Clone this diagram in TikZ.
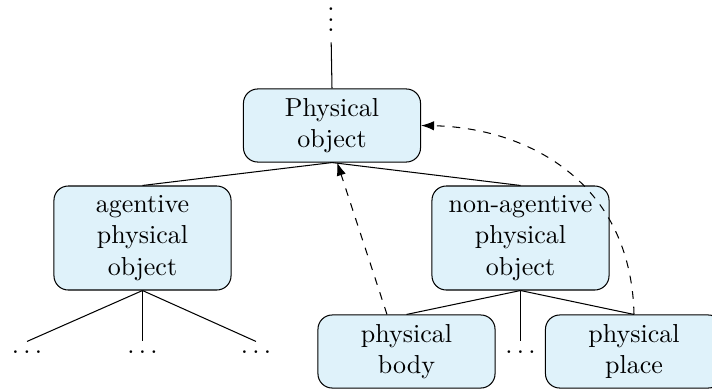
\documentclass[tikz,border=0pt]{standalone}
\usetikzlibrary{arrows.meta}
\definecolor{boxfill}{RGB}{223,242,250}
\begin{document}
\begin{tikzpicture}[x=0.3846pt,y=-0.3846pt,
  box/.style={draw=black, fill=boxfill, rounded corners=5.5pt, align=center,
    minimum width=68.1pt, text width=60pt, inner sep=0pt, font=\normalsize},
  box2/.style={box, minimum height=28.1pt},
  box3/.style={box, minimum height=40pt},
  dotsnode/.style={inner sep=3.33pt},
  tree/.style={draw=black, line width=0.4pt},
  link/.style={draw=black, dashed, line width=0.4pt, -{Latex[length=5pt,width=3.6pt]}}]
\useasboundingbox (0,0) rectangle (712,389);
\clip (0,0) rectangle (712,389);

\node[box2] (po) at (332,125.5) {Physical\\object};
\node[box3] (ag) at (142.5,238) {agentive\\physical\\object};
\node[box3] (na) at (520.5,238) {non-agentive\\physical\\object};
\node[box2] (pb) at (406.5,351.5) {physical\\body};
\node[box2] (pp) at (634,351.5) {physical\\place};

\node[inner sep=0pt, anchor=base] (top) at (331,31.5)
  {\vbox{\baselineskip4pt\lineskiplimit0pt\hbox{.}\hbox{.}\hbox{.}}};
\node[dotsnode] (d1) at (27,352) {$\ldots$};
\node[dotsnode] (d2) at (142.5,352) {$\ldots$};
\node[dotsnode] (d3) at (256,352) {$\ldots$};
\node[dotsnode] (d4) at (520.5,352) {$\ldots$};

\draw[tree, shorten <=4pt] (top.south) -- (po.north);
\draw[tree] (po.south) -- (ag.north);
\draw[tree] (po.south) -- (na.north);
\draw[tree] (ag.south) -- (d1.north);
\draw[tree] (ag.south) -- (d2.north);
\draw[tree] (ag.south) -- (d3.north);
\draw[tree] (na.south) -- (pb.north);
\draw[tree] (na.south) -- (d4.north);
\draw[tree] (na.south) -- (pp.north);

\draw[link] ([xshift=-7.5pt]pb.north) -- ([xshift=2pt]po.south);
\draw[link] (pp.north) .. controls +(-3,-135) and +(103,2) .. (po.east);
\end{tikzpicture}
\end{document}
